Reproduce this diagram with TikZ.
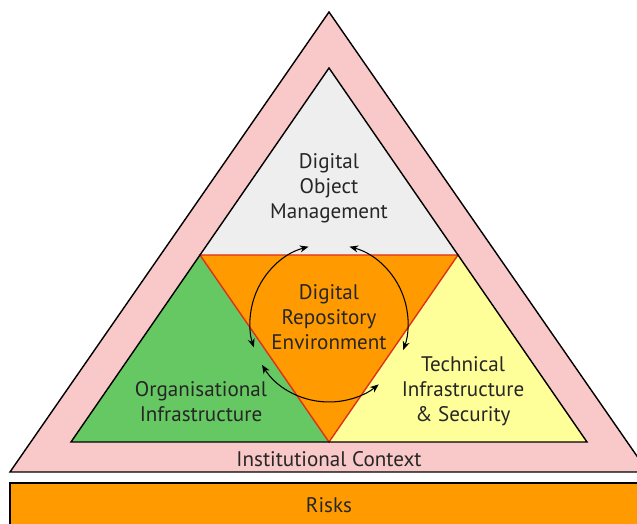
\documentclass[tikz,border=0pt]{standalone}
\usepackage{fontspec}
\setmainfont{PT Sans}
\usetikzlibrary{calc}
\usetikzlibrary{math}
\usetikzlibrary{arrows.meta}

\definecolor{rosa}{HTML}{F9C8C8}
\definecolor{cinza}{HTML}{EEEEEE}
\definecolor{laranja}{HTML}{FF9A00}
\definecolor{verde}{HTML}{66C862}
\definecolor{amarelo}{HTML}{FFFF99}
\definecolor{vermelho}{HTML}{E0301A}

\begin{document}
\begin{tikzpicture}[x=0.02cm,y=0.02cm,
    rotulo/.style={align=center,font=\fontsize{12}{14.2}\selectfont,text=black!85},
    seta/.style={semithick,{Stealth[length=5pt,width=4pt]}-{Stealth[length=5pt,width=4pt]}}]
    \tikzmath{  \xm = 329 ;
                \r = 79 ;
                \yo = 52 ;
                \yi = 82 ;
                \yt = 512 ;
                \ya = 456 ;
                \ym = (\yi + \ya)/2 ;
                \xl = 71 ;
                \xr = 587 ;
                \xml = (\xl + \xm)/2 ;
                \xmr = (\xr + \xm)/2 ;
                }
    \useasboundingbox (0,0) rectangle (637,524);
    \clip (0,0) rectangle (637,524);
    % risks and context
    \filldraw[fill=laranja,draw=black,thick] (10,41) rectangle (660,-10);
    \filldraw[fill=rosa,draw=black,thick] (\xm,\yt) -- (648,\yo) -- (10,\yo) -- cycle;
    % four parts of the inner triangle
    \fill[cinza] (\xm,\ya) -- (\xmr,\ym) -- (\xml,\ym) -- cycle;
    \fill[verde] (\xml,\ym) -- (\xm,\yi) -- (\xl,\yi) -- cycle;
    \fill[amarelo] (\xmr,\ym) -- (\xr,\yi) -- (\xm,\yi) -- cycle;
    \filldraw[fill=laranja,draw=vermelho,thick] (\xml,\ym) -- (\xmr,\ym) -- (\xm,\yi) -- cycle;
    \draw[thick] (\xm,\ya) -- (\xr,\yi) -- (\xl,\yi) -- cycle;

    \node[rotulo] (dom) at (\xm,336) {Digital\\Object\\Management};
    \node[rotulo] (dre) at (\xm,207) {Digital\\Repository\\Environment};
    \node[rotulo] (org) at (201,122) {Organisational\\Infrastructure};
    \node[rotulo] (tec) at (463,133) {Technical\\Infrastructure\\\& Security};
    \node[rotulo] (inst) at (\xm,65) {Institutional Context};
    \node[rotulo] (risks) at (\xm,19) {Risks};

    \coordinate (ctr) at (\xm,201);
    \draw[seta] ([shift={(105:\r)}]ctr) arc (105:198:\r);
    \draw[seta] ([shift={(75:\r)}]ctr) arc (75:-20:\r);
    \draw[seta] ([shift={(212:\r)}]ctr) arc (212:309:\r);
\end{tikzpicture}
\end{document}
